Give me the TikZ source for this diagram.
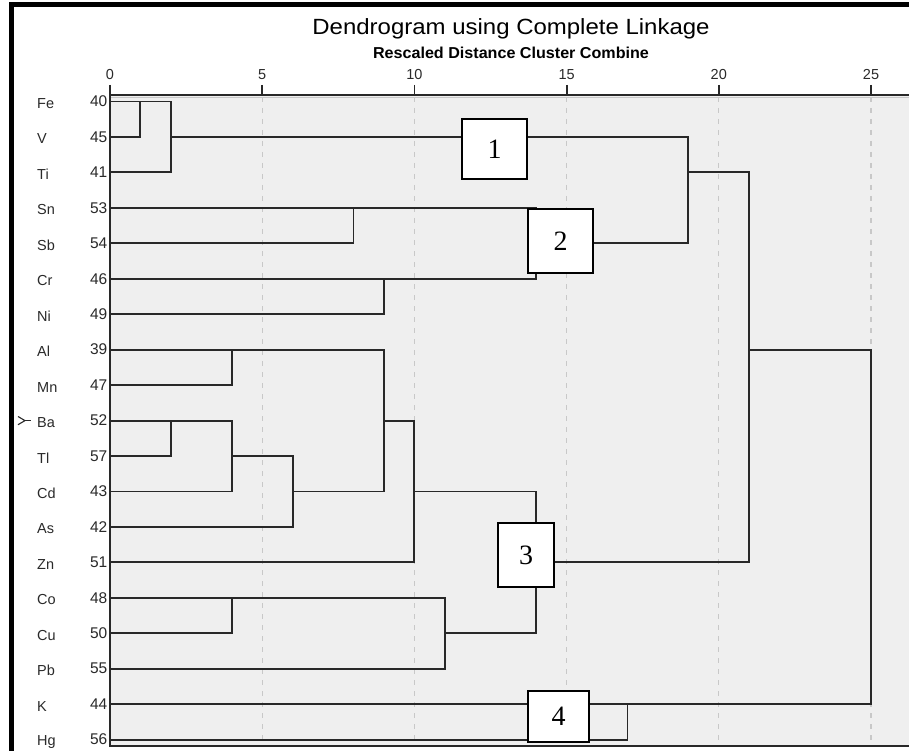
\documentclass[tikz,border=0pt]{standalone}
\usepackage{fontspec}
\setmainfont{Liberation Sans}
\newfontfamily\boxfont{Liberation Serif}
\usepackage{graphicx}
\definecolor{panelgray}{HTML}{EFEFEF}
\definecolor{linecol}{HTML}{282828}
\definecolor{gridcol}{HTML}{C8C8C8}
\definecolor{labelcol}{HTML}{2A2A2A}
\tikzset{
  dl/.style={draw=linecol, line width=1.9pt, line join=miter, line cap=rect},
  gridline/.style={draw=gridcol, line width=1.3pt, dash pattern=on 5pt off 6pt},
  ticklab/.style={font=\fontsize{14.5}{14.5}\selectfont, text=labelcol, inner sep=0pt},
  elemlab/.style={font=\fontsize{14.5}{14.5}\selectfont, text=labelcol, inner sep=0pt, anchor=west},
  numlab/.style={font=\fontsize{15.5}{15.5}\selectfont, text=labelcol, inner sep=0pt, anchor=east},
  numbox/.style={draw=black, fill=white, line width=1.3pt, font=\boxfont\fontsize{28}{28}\selectfont, inner sep=0pt}
}
\begin{document}
\begin{tikzpicture}[x=1pt, y=-1pt]
\useasboundingbox (0,0) rectangle (909,751);
\fill[white] (0,0) rectangle (909,751);
% outer frame
\draw[black, line width=5pt] (11.5,751) -- (11.5,5) -- (909,5);
% panel
\fill[panelgray] (110,95) rectangle (909,746);
% grid lines and ticks
\foreach \u in {5,10,15,20,25}{
  \draw[gridline] ({110+30.44*\u},97) -- ({110+30.44*\u},746);
}
\foreach \u in {0,5,10,15,20,25}{
  \draw[linecol, line width=1.8pt] ({110+30.44*\u},85) -- ({110+30.44*\u},95);
  \node[ticklab] (t\u) at ({110+30.44*\u},75) {\u};
}
% axis frame
\draw[linecol, line width=1.8pt] (110,95) -- (909,95);
\draw[gridcol, line width=1pt] (110,97.5) -- (909,97.5);
\draw[linecol, line width=1.8pt] (110,95) -- (110,746) -- (909,746);
% titles
\node[inner sep=0pt] (title) at (511,29) {\scalebox{1.09}[1]{\fontsize{22}{22}\selectfont Dendrogram using Complete Linkage}};
\node[inner sep=0pt] (subtitle) at (511,53) {\scalebox{1.02}[1]{\fontsize{15.8}{15.8}\selectfont\bfseries Rescaled Distance Cluster Combine}};
% leaf labels
\foreach \el/\num [count=\i from 0] in {Fe/40,V/45,Ti/41,Sn/53,Sb/54,Cr/46,Ni/49,Al/39,Mn/47,Ba/52,Tl/57,Cd/43,As/42,Zn/51,Co/48,Cu/50,Pb/55,K/44,Hg/56}{
  \node[elemlab] (e\i) at (37,{101.5+35.45*\i+2}) {\el};
  \node[numlab] (n\i) at (107.5,{101.5+35.45*\i}) {\num};
}
% marker beside Ba
\draw[labelcol, line width=1.1pt] (18,416.5) -- (25,420.6) -- (18,424.7);
\draw[labelcol, line width=1.1pt] (24,420.6) -- (31,420.6);
% dendrogram
\begin{scope}[shift={(110pt,-101.5pt)}, x=30.44pt, y=-35.45pt]
  % cluster 1
  \draw[dl] (0,1) -- (1,1) -- (1,0);
  \draw[dl] (0,0) -- (2,0) -- (2,2) -- (0,2);
  \draw[dl] (2,1) -- (19,1) -- (19,4) -- (14,4);
  % cluster 2
  \draw[dl] (0,3) -- (14,3) -- (14,5) -- (0,5);
  \draw[dl] (0,4) -- (8,4) -- (8,3);
  \draw[dl] (0,6) -- (9,6) -- (9,5);
  % joins
  \draw[dl] (19,2) -- (21,2) -- (21,13) -- (14,13);
  \draw[dl] (21,7) -- (25,7) -- (25,17) -- (0,17);
  % cluster 3
  \draw[dl] (0,8) -- (4,8) -- (4,7);
  \draw[dl] (0,7) -- (9,7) -- (9,11) -- (6,11);
  \draw[dl] (0,10) -- (2,10) -- (2,9);
  \draw[dl] (0,9) -- (4,9) -- (4,11) -- (0,11);
  \draw[dl] (4,10) -- (6,10) -- (6,12) -- (0,12);
  \draw[dl] (9,9) -- (10,9) -- (10,13) -- (0,13);
  \draw[dl] (10,11) -- (14,11) -- (14,15) -- (11,15);
  \draw[dl] (0,15) -- (4,15) -- (4,14);
  \draw[dl] (0,14) -- (11,14) -- (11,16) -- (0,16);
  % cluster 4
  \draw[dl] (0,18) -- (17,18) -- (17,17);
\end{scope}
% numbered boxes
\node[numbox, minimum width=65pt, minimum height=60pt] (b1) at (494.5,149) {1};
\node[numbox, minimum width=65pt, minimum height=64pt] (b2) at (560.5,241) {2};
\node[numbox, minimum width=56pt, minimum height=64pt] (b3) at (526,555) {3};
\node[numbox, minimum width=61pt, minimum height=51pt] (b4) at (558.5,716.5) {4};
\end{tikzpicture}
\end{document}
